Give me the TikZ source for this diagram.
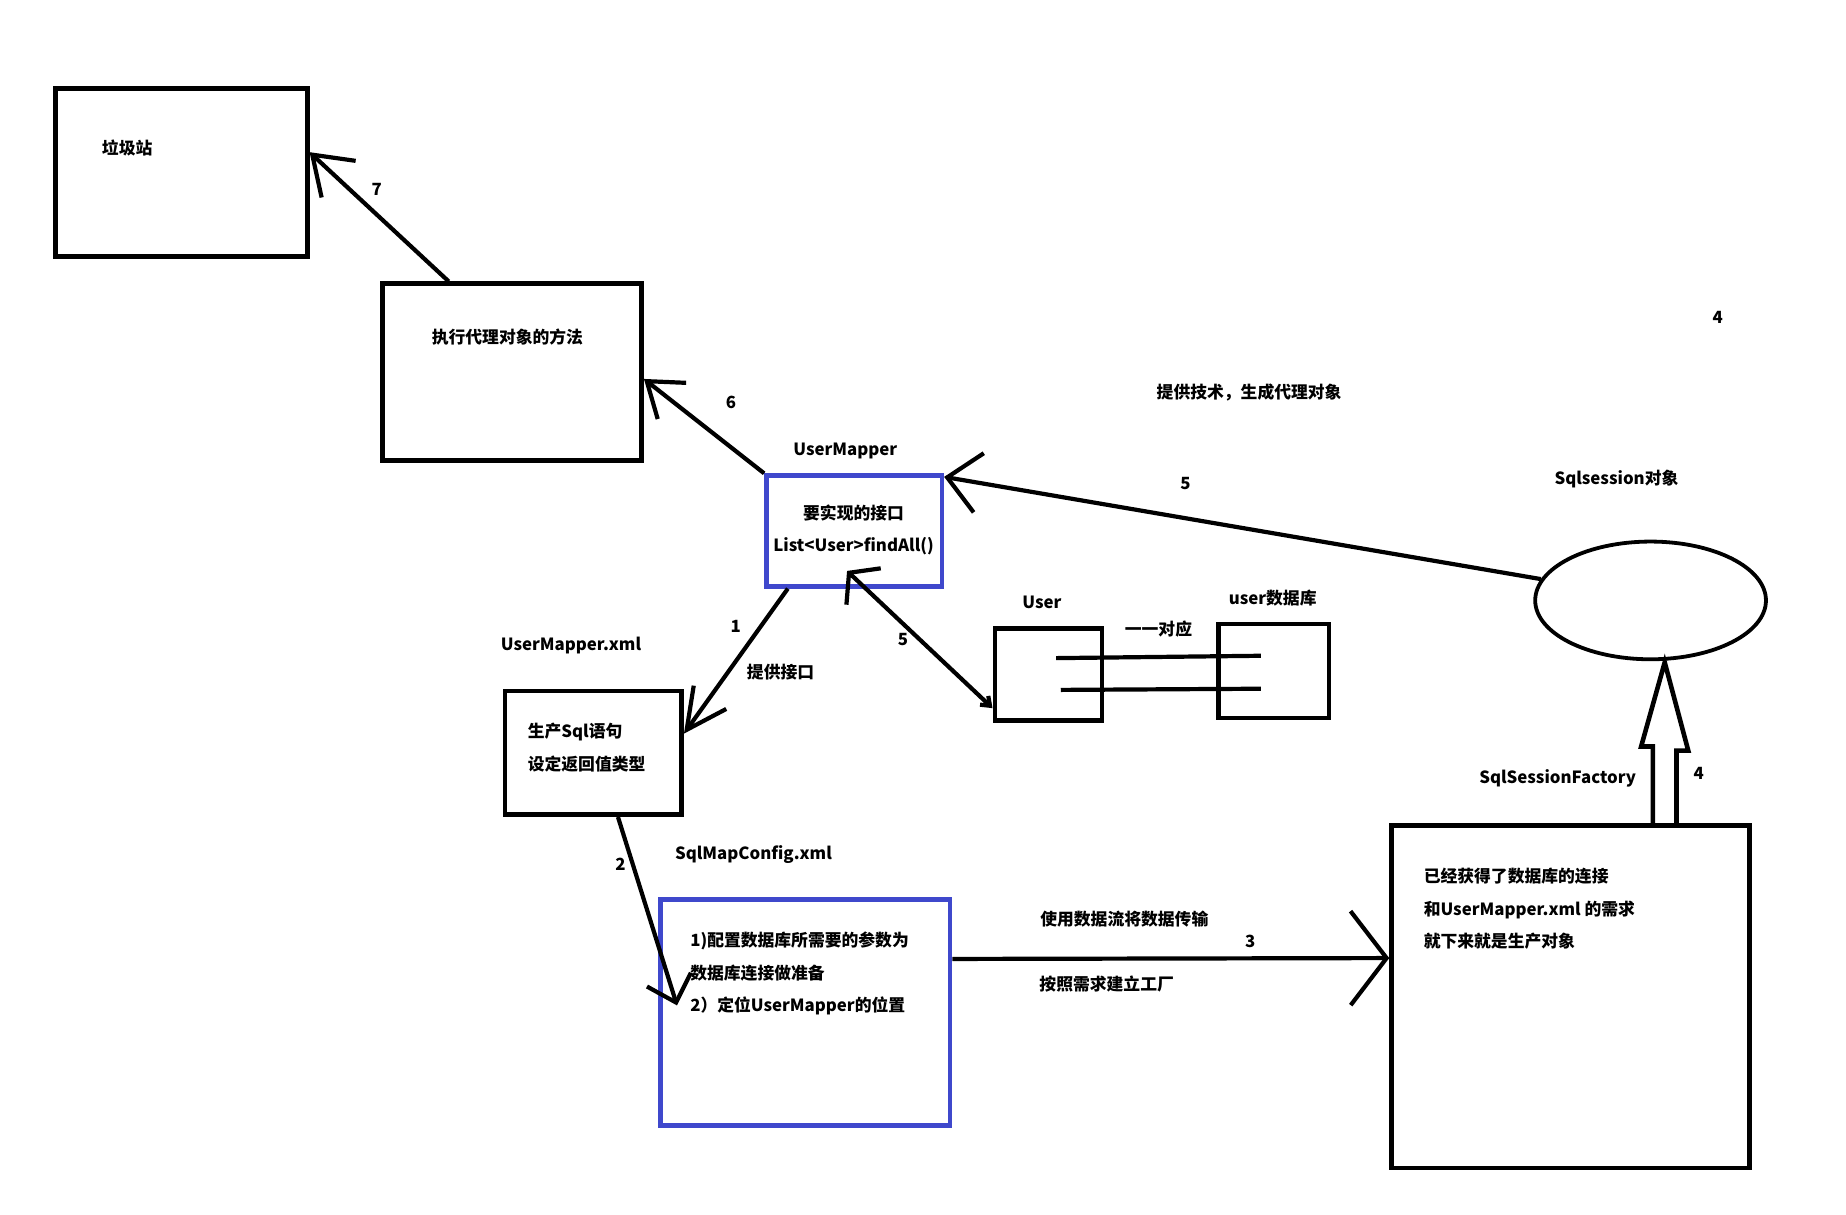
\documentclass[tikz,border=0pt]{standalone}
\usepackage{fontspec}
\setmainfont{Noto Sans CJK SC}
\usetikzlibrary{arrows.meta,calc,positioning,shapes.geometric}
\definecolor{paintblue}{RGB}{63,72,204}
\def\px{0.5887pt}
\tikzset{
  box/.style={draw,line width=2.3pt,inner sep=0pt},
  txt/.style={font=\bfseries\fontsize{8.4}{16.3}\selectfont,inner sep=0pt},
  link/.style={line width=2.1pt},
  barb/.style 2 args={-{Straight Barb[length=#1,width=#2]}}
}
\begin{document}
\begin{tikzpicture}[x=\px,y=-\px]
      \useasboundingbox (0,0) rectangle (1568,1032);
      \def \Boxes{
        trash/154/146.5/214/143/black,
        exec/435/316/220/150/black,
        mapper/725.5/451/149/94/paintblue,
        xml/504/639.5/150/105/black,
        config/684/860/246/192/paintblue,
        factory/1334/846.5/304/291/black,
        user/890.5/573/91/78/black,
        db/1082/570/94/80/black}
      \def \Labels{
        320/161/7, 621/342/6, 625/532/1, 663/571/提供接口, 767/543/5,
        527/734/2, 1007/411/5, 1061/333/提供技术，生成代理对象, 1459/270/4,
        1373/407/Sqlsession对象, 1323/661/SqlSessionFactory, 1443/657/4,
        955/781/使用数据流将数据传输, 1062/800/3, 940/836/按照需求建立工厂,
        718/383/UserMapper, 485/548/UserMapper.xml, 640/726/SqlMapConfig.xml,
        885/512/User, 1081/508/user数据库, 984/534/一一对应,
        108/126/垃圾站, 431/286/执行代理对象的方法}
      \foreach \id / \x / \y / \w / \h / \c in \Boxes{
        \node[box,draw=\c,minimum width=\w*\px,minimum height=\h*\px] (\id) at (\x, \y) {};
      }
      \node[draw,ellipse,line width=1.9pt,inner sep=0pt,minimum width=196*\px,minimum height=100*\px] (ses) at (1402, 510) {};
      \foreach \x / \y / \t [count=\i] in \Labels{
        \node[txt] (lbl\i) at (\x, \y) {\t};
      }
      \node[txt,align=center] (mappertxt) at (725, 450) {要实现的接口\\List<User>findAll()};
      \node[txt,align=left,anchor=west] (xmltxt) at (448, 635) {生产Sql语句\\设定返回值类型};
      \node[txt,align=left,anchor=west] (configtxt) at (586, 827) {1)配置数据库所需要的参数为\\数据库连接做准备\\2）定位UserMapper的位置};
      \node[txt,align=left,anchor=west] (factorytxt) at (1209, 772) {已经获得了数据库的连接\\和UserMapper.xml 的需求\\就下来就是生产对象};
      % steps 1 to 7
      \draw[link,barb={18pt}{25pt}] (exec.125) -- (trash.9);
      \draw[link,barb={16pt}{23pt}] (mapper.north west) -- (exec.-3);
      \draw[link,barb={20pt}{20pt}] (mapper.221) -- (xml.12);
      \draw[link,barb={12pt}{23pt}] (xml.-69) -- ($(config.west)+(16,-6)$);
      \draw[link,barb={18pt}{47pt}] (config.20) -- (factory.168);
      \draw[link,barb={16pt}{30pt}] (ses.169) -- (mapper.31);
      \draw[link,{Straight Barb[length=10pt,width=25pt]}-{Straight Barb[length=4pt,width=6pt]}] ($(mapper.south)+(-6,-15)$) -- (user.211);
      \draw[link] ($(user.center)+(6.5,-14)$) -- ($(db.center)+(-11,-13)$);
      \draw[link] ($(user.center)+(10.5,13)$) -- ($(db.center)+(-11,15)$);
      \draw[link,line width=2.3pt] ($(factory.north)+(70,0)$) -- ++(0,-65) -- ++(-10,0)
        -- ($(ses.south)+(12,1)$) -- ++(20,75) -- ++(-10,0) -- ++(0,65);
\end{tikzpicture}
\end{document}
